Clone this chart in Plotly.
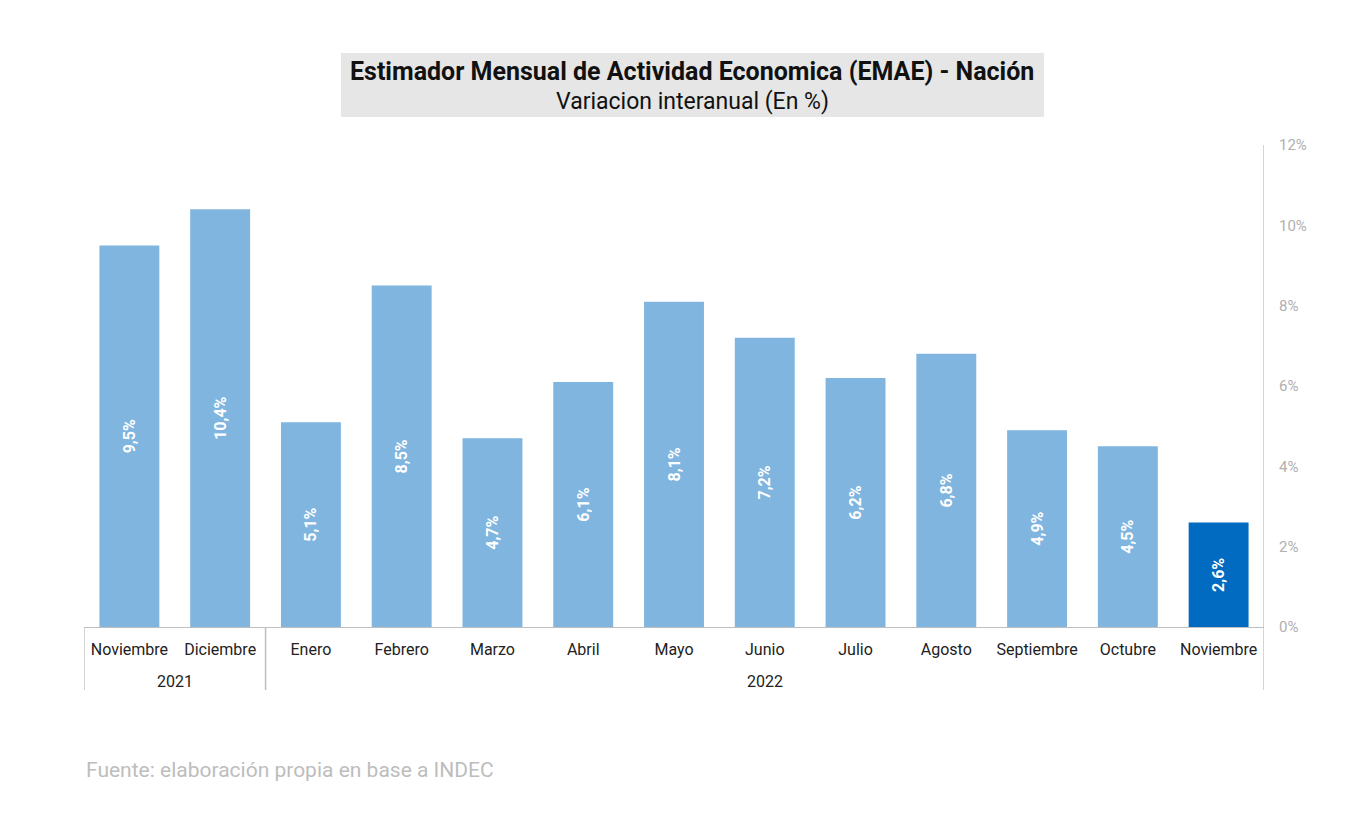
import plotly.graph_objects as go

months = ["Noviembre", "Diciembre", "Enero", "Febrero", "Marzo", "Abril", "Mayo",
          "Junio", "Julio", "Agosto", "Septiembre", "Octubre", "Noviembre"]
years = ["2021", "2021", "2022", "2022", "2022", "2022", "2022",
         "2022", "2022", "2022", "2022", "2022", "2022"]
values = [9.5, 10.4, 5.1, 8.5, 4.7, 6.1, 8.1, 7.2, 6.2, 6.8, 4.9, 4.5, 2.6]
y_ticks = [0, 2, 4, 6, 8, 10, 12]
y_tick_text = ["0%", "2%", "4%", "6%", "8%", "10%", "12%"]

LIGHT = "#7FB5DF"
DARK = "#006BC0"
GRID = "#BFBFBF"
FONT = "Roboto"

xs = list(range(len(values)))
colors = [LIGHT] * (len(values) - 1) + [DARK]
labels = [f"{v:.1f}%".replace(".", ",") for v in values]

fig = go.Figure()
fig.add_trace(go.Bar(
    x=xs, y=values, marker=dict(color=colors, line=dict(width=0)),
    width=0.66, text=labels, textposition="inside", insidetextanchor="middle",
    textangle=-90, textfont=dict(family=FONT, size=16, color="white", weight="bold"),
    hoverinfo="skip",
))

PH = 482.0
PW = 1180.0

groups = []
for i, yv in enumerate(years):
    if groups and groups[-1][0] == yv:
        groups[-1][2] = i
    else:
        groups.append([yv, i, i])

shapes = []
annotations = []
for g, a, b in groups:
    annotations.append(dict(x=(a + b) / 2, y=-54 / PH, xref="x", yref="paper", text=g,
                            showarrow=False, font=dict(family=FONT, size=16, color="#222"),
                            xanchor="center", yanchor="middle"))
    for edge in (a - 0.5, b + 0.5):
        shapes.append(dict(type="line", xref="x", yref="paper", x0=edge, x1=edge,
                           y0=-63 / PH, y1=0 if edge < len(values) - 1 else 1,
                           line=dict(color=GRID, width=1.3)))

# title box
shapes.append(dict(type="rect", xref="paper", yref="paper", x0=(341 - 84) / PW, x1=(1044 - 84) / PW,
                   y0=1 + (145 - 117) / PH, y1=1 + (145 - 53) / PH,
                   fillcolor="#E6E6E6", line=dict(width=0), layer="below"))
annotations.append(dict(x=(692 - 84) / PW, y=1 + (145 - 71) / PH, xref="paper", yref="paper",
                        text="<b>Estimador Mensual de Actividad Economica (EMAE) - Nación</b>",
                        showarrow=False, font=dict(family=FONT, size=25, color="#111"),
                        xanchor="center", yanchor="middle"))
annotations.append(dict(x=(692 - 84) / PW, y=1 + (145 - 101) / PH, xref="paper", yref="paper",
                        text="Variacion interanual (En %)",
                        showarrow=False, font=dict(family=FONT, size=23, color="#111"),
                        xanchor="center", yanchor="middle"))
annotations.append(dict(x=0, y=-(770 - 627) / PH, xref="paper", yref="paper",
                        text="Fuente: elaboración propia en base a INDEC",
                        showarrow=False, font=dict(family=FONT, size=21, color="#BDBDBD"),
                        xanchor="left", yanchor="middle"))

fig.update_layout(
    width=1367, height=825,
    margin=dict(l=76, r=111, t=137, b=206),
    plot_bgcolor="white", paper_bgcolor="white",
    showlegend=False,
    shapes=shapes, annotations=annotations,
    font=dict(family=FONT),
    xaxis=dict(range=[-0.5, len(values) - 0.5], tickmode="array", tickvals=xs, ticktext=months,
               showgrid=False, zeroline=False, showline=True, linecolor=GRID, linewidth=1.3,
               ticks="", tickfont=dict(family=FONT, size=16, color="#222"), ticklabelstandoff=8),
    yaxis=dict(range=[0, 12], side="right", tickmode="array", tickvals=y_ticks, ticktext=y_tick_text,
               showgrid=False, zeroline=False, showline=False,
               ticks="", tickfont=dict(family=FONT, size=15, color="#B0B0B0"), ticklabelstandoff=14),
    uniformtext=dict(minsize=8, mode="show"),
)

fig.write_html("out.html")
